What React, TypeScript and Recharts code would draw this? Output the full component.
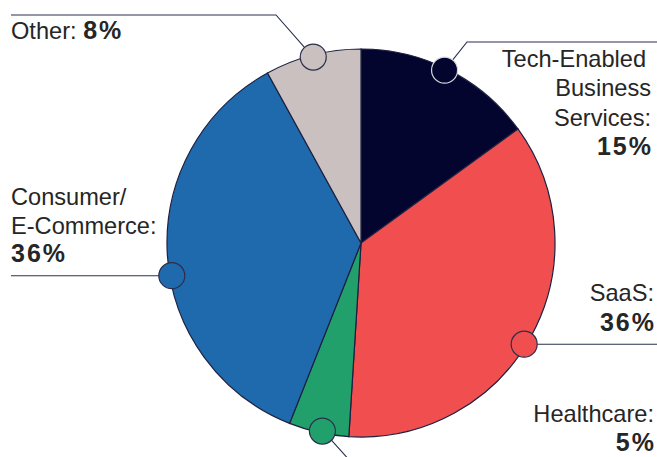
import React from 'react';
import { PieChart, Pie, Cell } from 'recharts';

const categories = ['Tech-Enabled Business Services', 'SaaS', 'Healthcare', 'Consumer/E-Commerce', 'Other'];
const shares = [15, 36, 5, 36, 8];
const labelLines: string[][] = [
  ['Tech-Enabled', 'Business', 'Services:'],
  ['SaaS:'],
  ['Healthcare:'],
  ['Consumer/', 'E-Commerce:'],
  ['Other:'],
];
const colors = ['#03052e', '#f04e4f', '#22a06b', '#1f6aad', '#c9c0bf'];

const data = categories.map((name, i) => ({ name, value: shares[i] }));

const LINE = '#2b2f4d';
const FONT = '"Liberation Sans", Arial, Helvetica, sans-serif';
const TXT = '#262626';
const FS = 23.6;
const BFS = 25;
const BLS = 2;

type Layout = {
  angleOffset: number;
  anchor: 'start' | 'end';
  x: number;
  y: number;
  lh: number;
  inline?: boolean;
  circleStroke: string;
  leader: (cx: number, cy: number) => string;
};

const layouts: Layout[] = [
  {
    angleOffset: 1.2, anchor: 'end', x: 651, y: 67, lh: 29.3, circleStroke: '#d8d8de',
    leader: (x, y) => `M${x + 8},${y - 10} L${467},42 L657,42`,
  },
  {
    angleOffset: -3, anchor: 'end', x: 654, y: 301, lh: 29.5, circleStroke: LINE,
    leader: (x, y) => `M${x + 13},${y} L657,${y}`,
  },
  {
    angleOffset: 1, anchor: 'end', x: 654, y: 422, lh: 28.5, circleStroke: LINE,
    leader: (x, y) => `M${x + 9},${y + 9} L${x + 26},${y + 28}`,
  },
  {
    angleOffset: 6.2, anchor: 'start', x: 11, y: 205, lh: 28.5, circleStroke: LINE,
    leader: (x, y) => `M${x - 13},${y} L11,${y}`,
  },
  {
    angleOffset: 0, anchor: 'start', x: 11, y: 39, lh: 29, inline: true, circleStroke: LINE,
    leader: (x, y) => `M${x - 9},${y - 10} L276,15 L11,15`,
  },
];

const RAD = Math.PI / 180;

const renderLabel = (props: any) => {
  const { cx, cy, midAngle, outerRadius, index } = props;
  const L = layouts[index];
  const a = (midAngle + L.angleOffset) * RAD;
  const r = outerRadius - 2;
  const px = cx + r * Math.cos(-a);
  const py = cy + r * Math.sin(-a);
  const lines = labelLines[index];
  const pct = `${shares[index]}%`;
  const bx = L.anchor === 'end' ? L.x + BLS : L.x;
  return (
    <g key={`lab-${index}`}>
      <path d={L.leader(px, py)} stroke={LINE} strokeWidth={1.1} fill="none" />
      <circle cx={px} cy={py} r={13} fill={colors[index]} stroke={L.circleStroke} strokeWidth={1.2} />
      {L.inline ? (
        <text x={L.x} y={L.y} textAnchor={L.anchor} fontFamily={FONT} fontSize={FS} fill={TXT}>
          {lines[0] + ' '}
          <tspan fontWeight="bold" fontSize={BFS} letterSpacing={BLS}>{pct}</tspan>
        </text>
      ) : (
        <text textAnchor={L.anchor} fontFamily={FONT} fontSize={FS} fill={TXT}>
          {lines.map((ln, k) => (
            <tspan key={k} x={index === 0 && k === 0 ? L.x - 5 : L.x} y={L.y + k * L.lh}>{ln}</tspan>
          ))}
          <tspan x={bx} y={L.y + lines.length * L.lh} fontWeight="bold" fontSize={BFS} letterSpacing={BLS}>{pct}</tspan>
        </text>
      )}
    </g>
  );
};

export default function App() {
  return (
    <div style={{ position: 'absolute', left: 0, top: 0, width: 657, height: 457, background: '#fff' }}>
      <PieChart width={657} height={457} margin={{ top: 0, right: 0, bottom: 0, left: 0 }}>
        <Pie
          data={data}
          dataKey="value"
          nameKey="name"
          cx={361}
          cy={243}
          outerRadius={194}
          startAngle={90}
          endAngle={-270}
          stroke="#1c2040"
          strokeWidth={1.2}
          label={renderLabel}
          labelLine={false}
          isAnimationActive={false}
        >
          {data.map((d, i) => (
            <Cell key={d.name} fill={colors[i]} />
          ))}
        </Pie>
      </PieChart>
    </div>
  );
}
